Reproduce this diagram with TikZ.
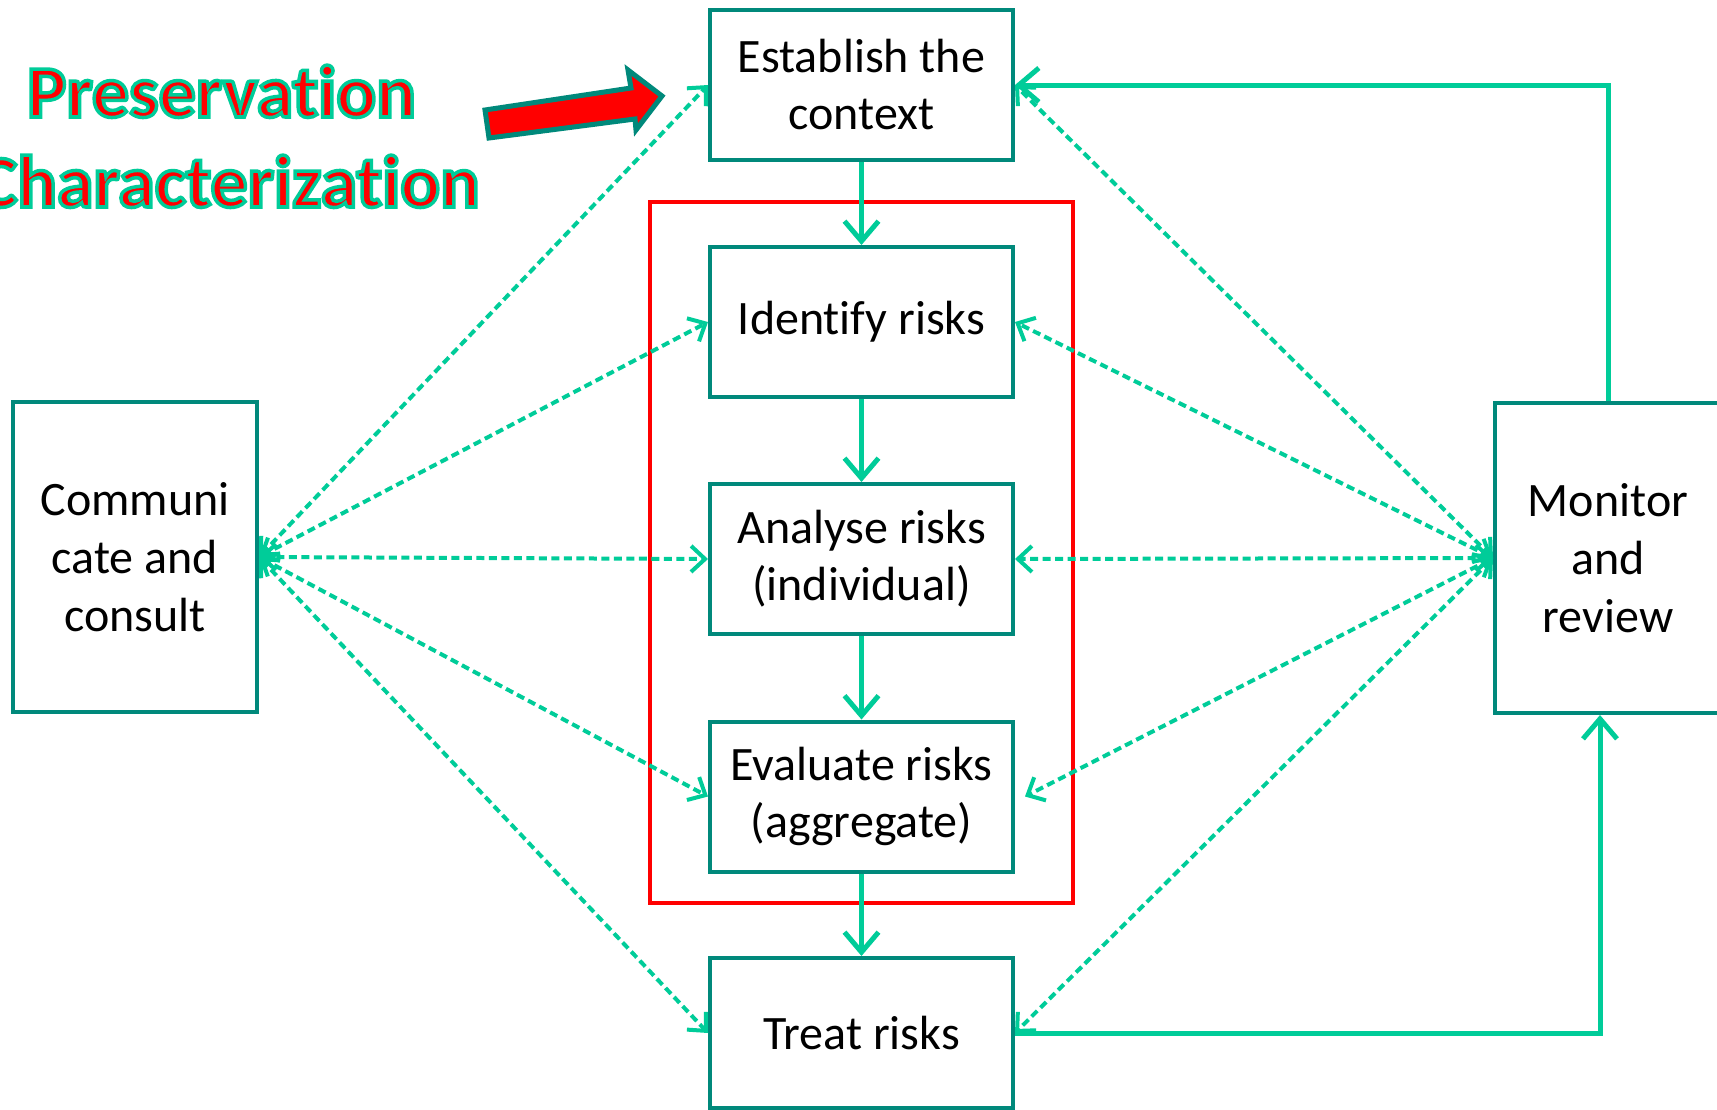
\documentclass[tikz,border=0pt]{standalone}
\usepackage{fontspec}
\setmainfont{Carlito}[Ligatures=NoCommon]
\usetikzlibrary{arrows.meta}
\definecolor{boxgreen}{RGB}{0,137,123}
\definecolor{flowgreen}{RGB}{0,204,153}
% red letters with a green rim: fill and stroke the glyphs
\newcommand{\rimtext}[1]{\special{pdf:literal direct 2 Tr 3.5 w 0 0.8 0.6 RG}#1\special{pdf:literal direct 0 Tr}}
\tikzset{
>={Straight Barb[length=20pt,width=34pt]},
risk node/.style={draw=boxgreen,line width=4pt,minimum width=303pt,minimum height=150pt,inner sep=0pt,align=center,font=\fontsize{48}{57}\selectfont},
side node/.style={risk node,minimum width=244pt,minimum height=310pt,font=\fontsize{48}{58}\selectfont},
flow/.style={->,flowgreen,line width=5pt},
link/.style={{Straight Barb[length=14pt,width=26pt]}-{Straight Barb[length=14pt,width=26pt]},flowgreen,line width=4pt,dash pattern=on 8pt off 4.5pt},
title/.style={text=red,font=\fontsize{74}{80}\selectfont\bfseries,inner sep=0pt}}

\begin{document}
\begin{tikzpicture}[x=1pt,y=-1pt]
\useasboundingbox (0,0) rectangle (1717,1109);

\node[risk node] (1) at (861.5,85) {Establish the\\context};
\node[risk node] (2) at (861.5,322) {Identify risks};
\node[risk node] (3) at (861.5,559) {Analyse risks\\(individual)};
\node[risk node] (4) at (861.5,796.5) {Evaluate risks\\(aggregate)};
\node[risk node] (5) at (861.5,1033) {Treat risks};
\node[side node] (6) at (135,557) {Communi\\cate and\\consult};
\node[side node,minimum width=226pt] (7) at (1608,558) {Monitor\\and\\review};

\node[title,anchor=base] (p) at (221.5,117) {\rimtext{Preservation}};
\node[title,anchor=base east] (c) at (480,207) {\rimtext{Characterization}};

\filldraw[fill=red,draw=boxgreen,line width=5pt] (485,110) -- (631,88) -- (628,70) -- (662,96) -- (636,130) -- (635,119) -- (489,138) -- cycle;

\draw[red,line width=4pt] (650,202) rectangle (1073,903);

\draw[flow] (1) -- (2);
\draw[flow] (2) -- (3);
\draw[flow] (3) -- (4);
\draw[flow] (4) -- (5);
\draw[flow] (7.north) |- (1.east);
\draw[flow] (5.east) -| ([xshift=-8pt]7.south);

\draw[link] (6.east) -- (1.west);
\draw[link] (6.east) -- (2.west);
\draw[link] (6.east) -- (3.west);
\draw[link] (6.east) -- (4.west);
\draw[link] (6.east) -- (5.west);
\draw[link] (7.west) -- (1.east);
\draw[link] (7.west) -- (2.east);
\draw[link] (7.west) -- (3.east);
\draw[link] (7.west) -- ([xshift=10pt]4.east);
\draw[link] (7.west) -- (5.east);

\end{tikzpicture}
\end{document}
